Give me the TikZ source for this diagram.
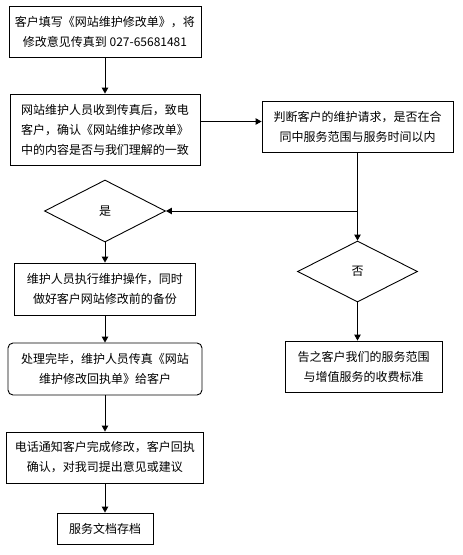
\documentclass[tikz,border=0pt]{standalone}
\usepackage{fontspec}
\setmainfont{Noto Sans CJK SC}
\usetikzlibrary{calc}
\usetikzlibrary{arrows.meta}
\usetikzlibrary{shapes.geometric}

\begin{document}
\begin{tikzpicture}[x=1pt,y=-1pt,
  every node/.style={font=\fontsize{12pt}{20pt}\selectfont,align=center,inner sep=0pt},
  stepbox/.style={draw,line width=0.9pt,rectangle},
  choice/.style={draw,line width=0.9pt,diamond},
  arr/.style={line width=0.9pt,-{Triangle[length=6pt,width=6.5pt]}},
  line/.style={line width=0.9pt}]

\useasboundingbox (0,0) rectangle (463,555);

\node[stepbox,minimum width=192pt,minimum height=51pt] (fill) at (105,31.5) {客户填写《网站维护修改单》，将\\修改意见传真到 027-65681481};
\node[stepbox,minimum width=190pt,minimum height=71pt] (receive) at (105,129.5) {网站维护人员收到传真后，致电\\客户，确认《网站维护修改单》\\中的内容是否与我们理解的一致};
\node[stepbox,minimum width=191pt,minimum height=51pt] (judge) at (357.5,126.5) {判断客户的维护请求，是否在合\\同中服务范围与服务时间以内};
\node[choice,minimum width=121pt,minimum height=62pt] (yes) at (105,211) {是};
\node[choice,minimum width=120pt,minimum height=61pt] (no) at (357.5,271.5) {否};
\node[stepbox,minimum width=181pt,minimum height=52pt] (work) at (105,289) {维护人员执行维护操作，同时\\做好客户网站修改前的备份};
\node[stepbox,rounded corners=5pt,minimum width=194pt,minimum height=52pt] (done) at (105,369) {处理完毕，维护人员传真《网站\\维护修改回执单》给客户};
\node[stepbox,minimum width=197pt,minimum height=51pt] (notify) at (105,457.5) {电话通知客户完成修改，客户回执\\确认，对我司提出意见或建议};
\node[stepbox,minimum width=96pt,minimum height=31pt] (archive) at (105,528.5) {服务文档存档};
\node[stepbox,minimum width=157pt,minimum height=51pt] (inform) at (363.5,366.5) {告之客户我们的服务范围\\与增值服务的收费标准};

\coordinate (in) at ([yshift=5pt]judge.west);
\coordinate (split) at (judge.south |- yes.east);

\draw[arr] (fill) -- (receive);
\draw[arr] (receive.east |- in) -- (in);
\draw[line] (judge) -- (split);
\draw[arr] (split) -- (yes);
\draw[arr] (split) -- (no);
\draw[arr] (yes) -- (work);
\draw[arr] (work) -- (done);
\draw[arr] (done) -- (notify);
\draw[arr] (notify) -- (archive);
\draw[arr] (no.south) -- (no.south |- inform.north);
\end{tikzpicture}
\end{document}
